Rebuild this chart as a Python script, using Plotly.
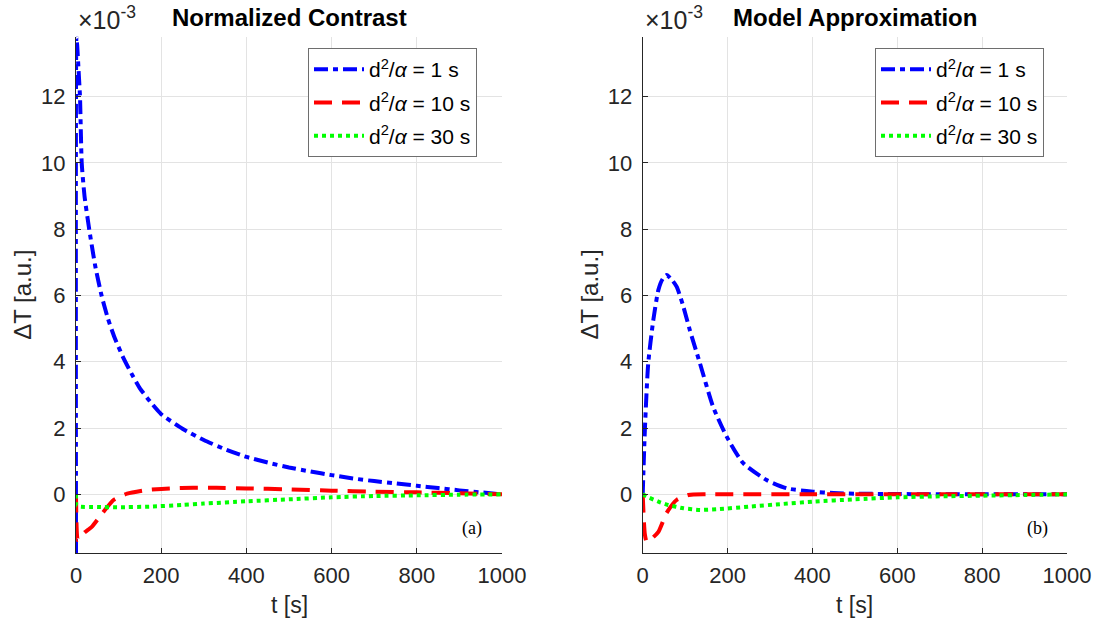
import plotly.graph_objects as go
from plotly.subplots import make_subplots

# ---------------- data (values in units of 1e-3) ----------------
legend_labels = ["d<sup>2</sup>/<i>α</i> = 1 s", "d<sup>2</sup>/<i>α</i> = 10 s", "d<sup>2</sup>/<i>α</i> = 30 s"]

# (a) Normalized Contrast
a_blue_t = [0, 1, 3, 6, 9.4, 13.4, 20, 31, 45, 60, 75, 90, 110, 130, 150, 174, 200, 250, 300, 350, 400,
            450, 500, 550, 600, 650, 700, 750, 800, 850, 900, 950, 1000]
a_blue_v = [-1.77, 13.81, 13.5, 12.8, 12.0, 10.0, 9.0, 8.0, 6.9, 6.0, 5.3, 4.75, 4.15, 3.65, 3.2, 2.8, 2.42,
            1.98, 1.64, 1.36, 1.13, 0.96, 0.81, 0.69, 0.58, 0.48, 0.40, 0.33, 0.26, 0.19, 0.12, 0.06, 0.0]

a_red_t = [0, 4, 10, 20, 37, 60, 88, 120, 166, 220, 275, 330, 400, 500, 600, 700, 800, 900, 1000]
a_red_v = [0, -1.38, -1.3, -1.15, -0.98, -0.6, -0.17, 0.02, 0.13, 0.18, 0.2, 0.2, 0.18, 0.15, 0.11, 0.08,
           0.06, 0.03, 0.0]

a_green_t = [0, 2, 50, 100, 174, 250, 300, 400, 500, 600, 700, 800, 900, 1000]
a_green_v = [0, -0.35, -0.38, -0.39, -0.37, -0.32, -0.28, -0.21, -0.15, -0.09, -0.05, -0.03, -0.01, 0]

# (b) Model Approximation
b_blue_t = [0, 5.4, 13, 25, 37, 47, 56.5, 67, 80, 95, 111, 135, 166, 198, 237, 292, 340, 402, 450, 500,
            600, 700, 800, 900, 1000]
b_blue_v = [0, 2.04, 3.95, 5.26, 6.17, 6.5, 6.62, 6.5, 6.27, 5.7, 4.96, 3.95, 2.64, 1.74, 0.94, 0.43,
            0.18, 0.08, 0.04, 0.02, 0.01, 0, 0, 0, 0]

b_red_t = [0, 5, 9.4, 20, 37, 56, 80, 108, 150, 200, 400, 600, 800, 1000]
b_red_v = [0, -1.2, -1.43, -1.35, -1.13, -0.57, -0.17, -0.02, 0, 0, 0, 0, 0, 0]

b_green_t = [0, 15, 37, 60, 96, 135, 174, 252, 330, 402, 500, 600, 700, 800, 900, 1000]
b_green_v = [0, -0.1, -0.22, -0.32, -0.42, -0.47, -0.45, -0.37, -0.29, -0.22, -0.15, -0.09, -0.06,
             -0.04, -0.02, 0]

x_ticks = [0, 200, 400, 600, 800, 1000]
y_ticks = [0, 2, 4, 6, 8, 10, 12]
y_range = [-1.77, 13.81]

# ---------------- styling ----------------
W, H = 1102, 631
FONT = "Liberation Sans, Arial, sans-serif"
TXT = "#262626"
colors = ["#0000ff", "#ff0000", "#00ff00"]
dashes = ["14px,5px,5px,5px", "18px,10px", "4px,4px"]

fig = make_subplots(rows=1, cols=2)

series = [
    (a_blue_t, a_blue_v, b_blue_t, b_blue_v),
    (a_red_t, a_red_v, b_red_t, b_red_v),
    (a_green_t, a_green_v, b_green_t, b_green_v),
]
for i, (ta, va, tb, vb) in enumerate(series):
    fig.add_trace(go.Scatter(x=ta, y=va, mode="lines", name=legend_labels[i],
                             line=dict(color=colors[i], width=4, dash=dashes[i],
                                       shape="spline", smoothing=0.5),
                             legend="legend", legendgroup=f"a{i}"), row=1, col=1)
    fig.add_trace(go.Scatter(x=tb, y=vb, mode="lines", name=legend_labels[i],
                             line=dict(color=colors[i], width=4, dash=dashes[i], shape="spline",
                                       smoothing=0.6),
                             legend="legend2", legendgroup=f"b{i}"), row=1, col=2)

left_dom = [76 / W, 502 / W]
right_dom = [642.7 / W, 1067 / W]
y_dom = [1 - 553 / H, 1 - 36.7 / H]

ax_common = dict(showgrid=True, gridcolor="#e3e3e3", gridwidth=1, showline=True, linecolor=TXT,
                 linewidth=1, ticks="inside", ticklen=5, tickcolor=TXT, zeroline=False,
                 tickfont=dict(family=FONT, size=22, color=TXT), mirror=False, automargin=False)

fig.update_xaxes(range=[0, 1000], tickvals=x_ticks, ticklabelstandoff=3, **ax_common)
fig.update_yaxes(range=y_range, tickvals=y_ticks, ticklabelstandoff=5, **ax_common)
fig.update_layout(
    xaxis=dict(domain=left_dom),
    xaxis2=dict(domain=right_dom),
    yaxis=dict(domain=y_dom),
    yaxis2=dict(domain=y_dom),
)

leg_common = dict(xanchor="left", yanchor="top", bgcolor="white", bordercolor="#6e6e6e", borderwidth=1,
                  font=dict(family=FONT, size=21, color="black"), tracegroupgap=3,
                  itemwidth=50)
fig.update_layout(
    legend=dict(x=308 / W, y=1 - 48 / H, **leg_common),
    legend2=dict(x=875 / W, y=1 - 48 / H, **leg_common),
)

annos = []
for cx0, cx1, title, tag in [(left_dom[0], left_dom[1], "Normalized Contrast", "(a)"),
                             (right_dom[0], right_dom[1], "Model Approximation", "(b)")]:
    cx = (cx0 + cx1) / 2
    annos.append(dict(x=cx, y=1 - 18 / H, xref="paper", yref="paper", text=f"<b>{title}</b>",
                      showarrow=False, font=dict(family=FONT, size=24, color="black"),
                      xanchor="center", yanchor="middle"))
    annos.append(dict(x=cx, y=1 - 605 / H, xref="paper", yref="paper", text="t [s]",
                      showarrow=False, font=dict(family=FONT, size=23, color=TXT),
                      xanchor="center", yanchor="middle"))
    annos.append(dict(x=cx0 - 53 / W, y=(y_dom[0] + y_dom[1]) / 2, xref="paper", yref="paper",
                      text="ΔT [a.u.]", textangle=-90, showarrow=False,
                      font=dict(family=FONT, size=24, color=TXT), xanchor="center", yanchor="middle"))
    annos.append(dict(x=cx0, y=1 - 18 / H, xref="paper", yref="paper", text="×10<sup>-3</sup>",
                      showarrow=False, font=dict(family=FONT, size=25, color=TXT),
                      xanchor="left", yanchor="middle"))
    annos.append(dict(x=cx1 - 30 / W, y=1 - 528 / H, xref="paper", yref="paper", text=tag,
                      showarrow=False, font=dict(family="Liberation Serif, Times New Roman, serif",
                                                 size=18, color="black"),
                      xanchor="center", yanchor="middle"))

fig.update_layout(
    width=W, height=H, margin=dict(l=0, r=0, t=0, b=0),
    paper_bgcolor="white", plot_bgcolor="white",
    annotations=annos, showlegend=True,
)

fig.write_html("out.html")
